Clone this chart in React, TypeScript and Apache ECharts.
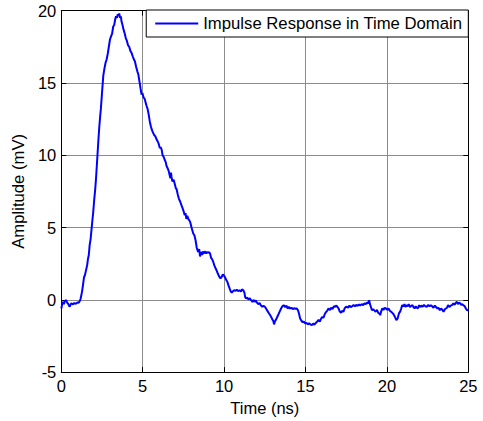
import React, { useEffect, useRef } from "react";
import * as echarts from "echarts";

const seriesName = "Impulse Response in Time Domain";
const xTicks = [0, 5, 10, 15, 20, 25];
const yTicks = [-5, 0, 5, 10, 15, 20];

const timeNs = [
  0.0, 0.05, 0.1, 0.16, 0.22, 0.31, 0.36, 0.41, 0.47, 0.52, 0.58, 0.64, 0.72, 0.8, 0.86, 0.92, 1.0, 1.07, 1.13,
  1.18, 1.23, 1.28, 1.33, 1.37, 1.4, 1.45, 1.5, 1.54, 1.59, 1.64, 1.69, 1.74, 1.8, 1.86, 1.91, 1.96, 2.02, 2.08, 2.13,
  2.2, 2.27, 2.33, 2.38, 2.43, 2.5, 2.58, 2.65, 2.72, 2.78, 2.85, 2.92, 2.99, 3.05, 3.12, 3.19, 3.25, 3.31, 3.36,
  3.42, 3.47, 3.52, 3.56, 3.61, 3.66, 3.7, 3.76, 3.82, 3.9, 3.96, 4.03, 4.1, 4.17, 4.25, 4.32, 4.4, 4.47, 4.52,
  4.6, 4.67, 4.73, 4.8, 4.87, 4.93, 4.98, 5.05, 5.12, 5.19, 5.24, 5.3, 5.37, 5.44, 5.5, 5.55, 5.62, 5.7, 5.78,
  5.85, 5.92, 5.98, 6.05, 6.1, 6.16, 6.22, 6.28, 6.35, 6.42, 6.46, 6.53, 6.6, 6.66, 6.7, 6.74, 6.77, 6.82, 6.9,
  6.97, 7.04, 7.08, 7.15, 7.22, 7.3, 7.39, 7.46, 7.52, 7.58, 7.63, 7.68, 7.74, 7.8, 7.86, 7.92, 8.0, 8.1, 8.18,
  8.25, 8.32, 8.4, 8.47, 8.52, 8.58, 8.64, 8.68, 8.73, 8.78, 8.84, 8.9, 8.94, 9.0, 9.06, 9.14, 9.2, 9.27, 9.34,
  9.4, 9.47, 9.55, 9.62, 9.7, 9.78, 9.86, 9.92, 9.98, 10.06, 10.12, 10.2, 10.27, 10.35, 10.42, 10.47, 10.55, 10.62,
  10.7, 10.78, 10.86, 10.95, 11.03, 11.1, 11.18, 11.25, 11.29, 11.35, 11.42, 11.5, 11.58, 11.66, 11.74, 11.8,
  11.88, 11.95, 12.02, 12.1, 12.18, 12.26, 12.34, 12.42, 12.52, 12.6, 12.68, 12.76, 12.83, 12.9, 12.96, 13.02,
  13.07, 13.12, 13.2, 13.27, 13.34, 13.42, 13.5, 13.58, 13.66, 13.75, 13.83, 13.9, 13.98, 14.06, 14.14, 14.22,
  14.3, 14.38, 14.47, 14.55, 14.61, 14.67, 14.75, 14.83, 14.9, 14.98, 15.06, 15.14, 15.22, 15.3, 15.39, 15.47,
  15.55, 15.63, 15.72, 15.8, 15.88, 15.96, 16.04, 16.1, 16.18, 16.26, 16.34, 16.41, 16.5, 16.58, 16.66, 16.74,
  16.82, 16.9, 16.97, 17.03, 17.1, 17.18, 17.26, 17.33, 17.4, 17.47, 17.54, 17.62, 17.7, 17.78, 17.86, 17.95,
  18.04, 18.12, 18.2, 18.28, 18.36, 18.45, 18.54, 18.62, 18.7, 18.77, 18.84, 18.91, 18.96, 19.02, 19.08, 19.16,
  19.24, 19.31, 19.39, 19.47, 19.54, 19.59, 19.65, 19.72, 19.79, 19.86, 19.94, 20.02, 20.1, 20.18, 20.26, 20.33,
  20.41, 20.5, 20.58, 20.66, 20.74, 20.82, 20.88, 20.94, 21.02, 21.08, 21.14, 21.2, 21.27, 21.34, 21.42, 21.5,
  21.57, 21.63, 21.7, 21.77, 21.84, 21.9, 21.98, 22.05, 22.12, 22.2, 22.28, 22.36, 22.46, 22.54, 22.62, 22.7,
  22.78, 22.86, 22.94, 23.02, 23.1, 23.17, 23.25, 23.33, 23.41, 23.48, 23.56, 23.62, 23.69, 23.76, 23.84, 23.92,
  24.0, 24.08, 24.16, 24.23, 24.3, 24.36, 24.43, 24.5, 24.57, 24.63, 24.7, 24.78, 24.85, 24.92, 25.0,
];

const amplitudeMv = [
  -0.6, -0.35, -0.14, -0.3, -0.08, -0.03, -0.2, -0.25, -0.4, -0.48, -0.3, -0.25, -0.32, -0.22, -0.28, -0.25, -0.18, -0.2, -0.1,
  0.05, 0.32, 0.6, 1.0, 1.35, 1.58, 1.7, 1.95, 2.15, 2.4, 2.84, 3.1, 3.76, 4.2, 4.9, 5.5, 6.05, 6.9, 7.6, 8.35,
  9.6, 10.9, 11.9, 12.6, 13.2, 14.3, 15.5, 16.0, 16.4, 16.6, 17.0, 17.5, 18.0, 18.2, 18.4, 18.9, 19.0, 19.4, 19.6,
  19.5, 19.75, 19.65, 19.8, 19.5, 19.6, 19.24, 19.0, 18.7, 18.4, 18.1, 17.9, 17.6, 17.5, 17.2, 17.06, 16.8, 16.6, 16.5,
  16.1, 15.8, 15.6, 15.1, 14.6, 14.2, 14.3, 14.0, 13.9, 13.6, 13.4, 13.2, 12.8, 12.3, 12.0, 11.8, 11.6, 11.4, 11.3,
  11.1, 10.95, 10.8, 10.5, 10.55, 10.4, 10.0, 9.9, 9.7, 9.5, 9.27, 9.1, 8.9, 8.6, 8.4, 8.8, 8.5, 8.2, 8.3,
  8.0, 7.7, 7.66, 7.3, 7.0, 6.8, 6.51, 6.3, 6.1, 5.85, 6.0, 5.6, 5.8, 5.6, 5.5, 5.37, 5.0, 4.6, 4.45,
  4.1, 3.6, 3.3, 3.5, 3.0, 3.3, 3.1, 3.35, 3.2, 3.25, 3.35, 3.19, 3.3, 3.25, 3.3, 3.2, 2.9, 2.8, 2.6,
  2.38, 2.2, 2.0, 1.8, 1.6, 1.47, 1.6, 1.75, 1.7, 1.55, 1.4, 1.24, 1.0, 0.75, 0.55, 0.5, 0.6, 0.66,
  0.62, 0.7, 0.6, 0.66, 0.58, 0.72, 0.66, 0.5, 0.2, 0.09, 0.15, 0.02, 0.1, -0.03, -0.15, 0.0,
  -0.14, -0.05, -0.2, -0.3, -0.22, -0.38, -0.48, -0.42, -0.5, -0.65, -0.8, -0.95, -1.06, -1.2, -1.35, -1.45,
  -1.7, -1.5, -1.35, -1.17, -1.0, -0.8, -0.6, -0.45, -0.37, -0.5, -0.4, -0.6, -0.5, -0.6, -0.55, -0.65,
  -0.58, -0.62, -0.6, -0.75, -1.0, -1.29, -1.45, -1.55, -1.5, -1.63, -1.6, -1.7, -1.62, -1.7, -1.75, -1.65,
  -1.72, -1.6, -1.5, -1.4, -1.5, -1.3, -1.17, -1.25, -1.0, -0.85, -0.75, -0.6, -0.7, -0.55, -0.65, -0.45,
  -0.48, -0.4, -0.5, -0.6, -0.8, -0.9, -0.75, -0.83, -0.6, -0.5, -0.48, -0.55, -0.4, -0.5, -0.45, -0.37,
  -0.45, -0.35, -0.42, -0.32, -0.4, -0.3, -0.38, -0.25, -0.3, -0.19, -0.25, -0.03, -0.3, -0.5, -0.72, -0.65,
  -0.75, -0.83, -0.7, -0.9, -0.95, -1.06, -0.8, -0.6, -0.7, -0.55, -0.6, -0.7, -0.6, -0.75, -0.83, -0.9,
  -1.0, -1.2, -1.4, -1.3, -0.94, -0.8, -0.6, -0.37, -0.45, -0.3, -0.5, -0.37, -0.45, -0.3, -0.5, -0.42,
  -0.37, -0.5, -0.6, -0.45, -0.55, -0.6, -0.37, -0.5, -0.4, -0.48, -0.35, -0.45, -0.48, -0.35, -0.45, -0.37,
  -0.45, -0.55, -0.4, -0.5, -0.6, -0.55, -0.72, -0.6, -0.7, -0.83, -0.65, -0.6, -0.55, -0.37, -0.5, -0.4,
  -0.37, -0.25, -0.35, -0.2, -0.14, -0.3, -0.2, -0.25, -0.35, -0.3, -0.37, -0.45, -0.6, -0.72, -0.7,
];

const FONT = "'Liberation Sans', Arial, sans-serif";

export default function App() {
  const ref = useRef<HTMLDivElement>(null);

  useEffect(() => {
    if (!ref.current) return;
    const chart = echarts.init(ref.current, null, { renderer: "svg" });
    const n = Math.min(timeNs.length, amplitudeMv.length);
    const data: [number, number][] = [];
    for (let i = 0; i < n; i++) data.push([timeNs[i], amplitudeMv[i]]);

    const axisLine = { show: true, onZero: false, lineStyle: { color: "#000", width: 1 } };
    const tick = { show: true, inside: true, length: 5, lineStyle: { color: "#000" } };

    chart.setOption({
      animation: false,
      backgroundColor: "#fff",
      grid: { left: 61.3, top: 10.6, width: 407, height: 363.6, containLabel: false },
      legend: {
        show: true,
        right: 14.7,
        top: 10,
        orient: "horizontal",
        data: [{ name: seriesName, icon: "rect" }],
        itemWidth: 43,
        itemHeight: 2,
        padding: [5, 6, 5, 9],
        borderColor: "#000",
        borderWidth: 1,
        backgroundColor: "#fff",
        textStyle: { fontFamily: FONT, fontSize: 16.7, color: "#000" },
      },
      xAxis: [
        {
          type: "value",
          min: 0,
          max: 25,
          interval: 5,
          position: "bottom",
          name: "Time (ns)",
          nameLocation: "middle",
          nameGap: 26,
          nameTextStyle: { fontFamily: FONT, fontSize: 16.5, color: "#000" },
          axisLine,
          axisTick: tick,
          axisLabel: {
            fontFamily: FONT,
            fontSize: 16.5,
            color: "#000",
            margin: 5,
            formatter: (v: number) => (xTicks.includes(v) ? String(v) : ""),
          },
          splitLine: { show: true, lineStyle: { color: "#8c8c8c", width: 1 } },
        },
        {
          type: "value",
          min: 0,
          max: 25,
          interval: 5,
          position: "top",
          axisLine,
          axisTick: tick,
          axisLabel: { show: false },
          splitLine: { show: false },
        },
      ],
      yAxis: [
        {
          type: "value",
          min: -5,
          max: 20,
          interval: 5,
          position: "left",
          name: "Amplitude (mV)",
          nameLocation: "middle",
          nameGap: 31,
          nameTextStyle: { fontFamily: FONT, fontSize: 16.7, color: "#000" },
          axisLine,
          axisTick: tick,
          axisLabel: {
            fontFamily: FONT,
            fontSize: 16.5,
            color: "#000",
            margin: 5,
            formatter: (v: number) => (yTicks.includes(v) ? String(v) : ""),
          },
          splitLine: { show: true, lineStyle: { color: "#8c8c8c", width: 1 } },
        },
        {
          type: "value",
          min: -5,
          max: 20,
          interval: 5,
          position: "right",
          axisLine,
          axisTick: tick,
          axisLabel: { show: false },
          splitLine: { show: false },
        },
      ],
      series: [
        {
          name: seriesName,
          type: "line",
          data,
          xAxisIndex: 0,
          yAxisIndex: 0,
          symbol: "none",
          showSymbol: false,
          color: "#0000ff",
          itemStyle: { color: "#0000ff" },
          lineStyle: { color: "#0000ff", width: 2 },
          z: 3,
        },
      ],
    });
    return () => chart.dispose();
  }, []);

  return (
    <div
      ref={ref}
      style={{ position: "fixed", left: 0, top: 0, width: 483, height: 421, background: "#fff" }}
    />
  );
}
